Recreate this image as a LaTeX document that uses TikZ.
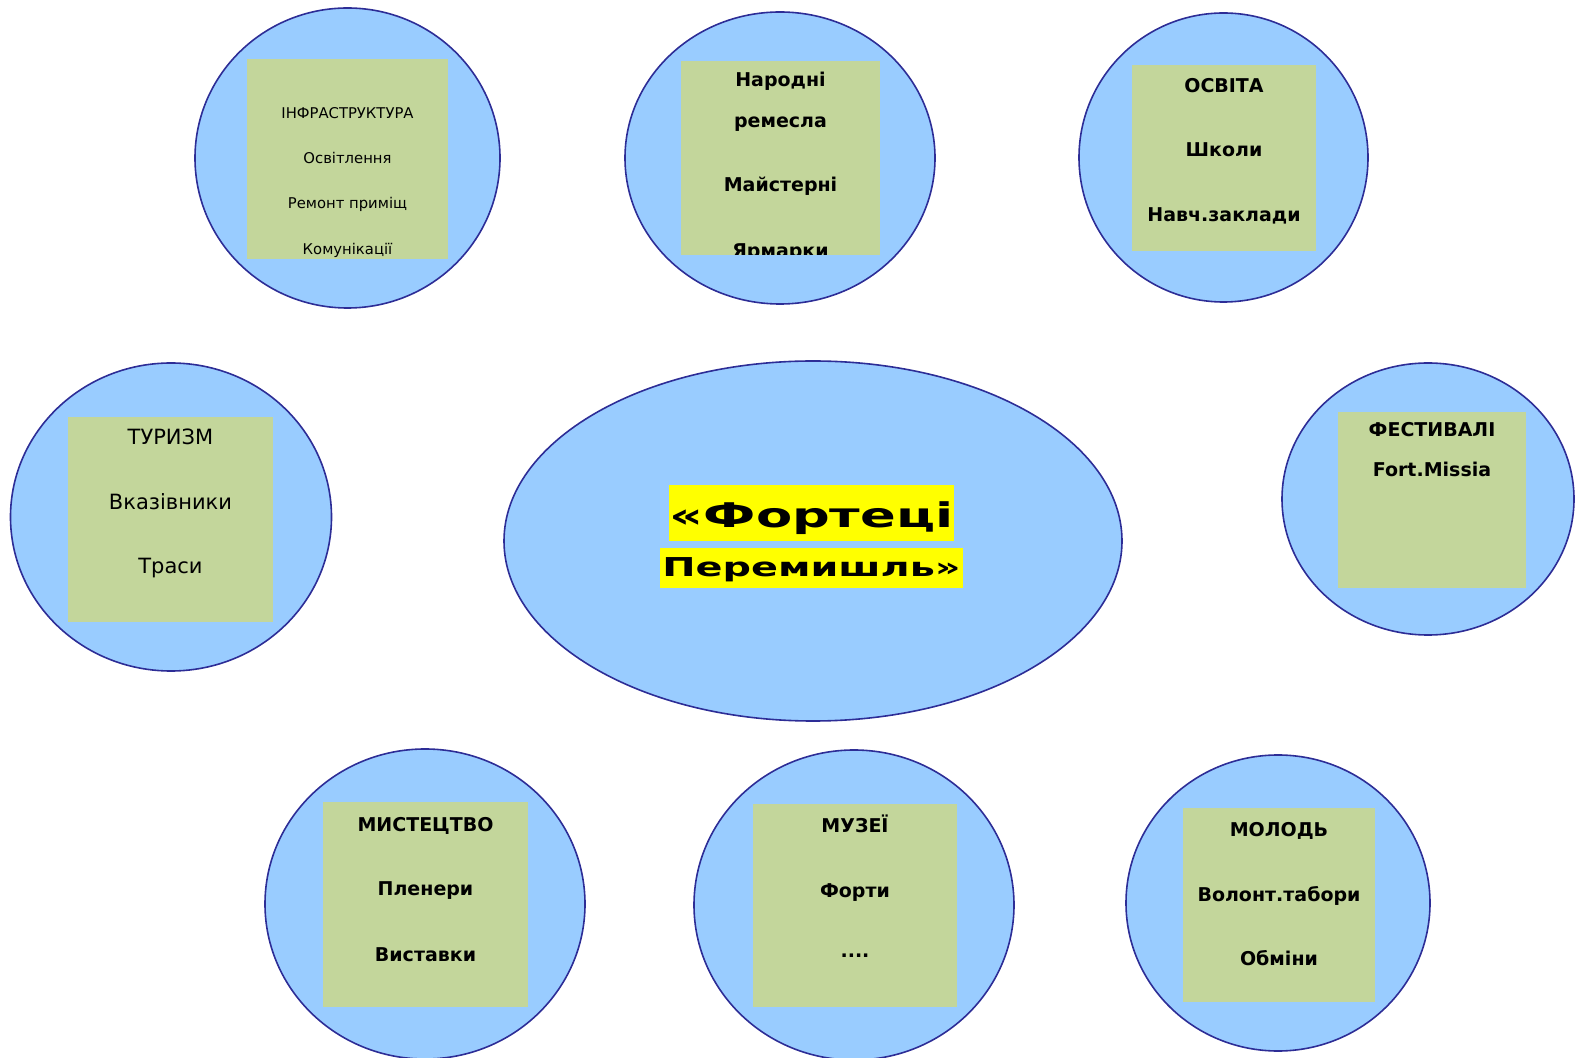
\documentclass[tikz,border=0pt]{standalone}
\usepackage{fontspec}
\setmainfont{DejaVu Sans}
\usetikzlibrary{shapes.geometric}
\definecolor{myblue}{RGB}{153,204,255}
\definecolor{myline}{RGB}{45,45,150}
\definecolor{mygreen}{RGB}{195,214,155}
\definecolor{myyellow}{RGB}{255,255,0}

\tikzset{
  bubble/.style={ellipse, draw=myline, fill=myblue, line width=0.8pt, inner sep=0pt},
  item/.style={anchor=base, inner sep=0pt, font=\fontsize{9.5pt}{11pt}\selectfont\bfseries},
  smallitem/.style={anchor=base, inner sep=0pt, font=\fontsize{7.4pt}{9pt}\selectfont},
  plainitem/.style={anchor=base, inner sep=0pt, font=\fontsize{10.5pt}{12pt}\selectfont},
  headline/.style={anchor=base, inner sep=0pt}
}

\begin{document}
\begin{tikzpicture}[x=0.5pt, y=-0.5pt]
    \useasboundingbox (0, 0) rectangle (1575, 1058);

    % bubbles
    \node[bubble, minimum width=152.5pt, minimum height=150pt] (infra) at (347.5, 158) {};
    \node[bubble, minimum width=155pt, minimum height=146pt] (craft) at (780, 158) {};
    \node[bubble, minimum width=144.5pt, minimum height=144.5pt] (edu) at (1223.5, 157.5) {};
    \node[bubble, minimum width=160.5pt, minimum height=154pt] (tour) at (171, 517) {};
    \node[bubble, minimum width=309pt, minimum height=180pt] (fort) at (813, 541) {};
    \node[bubble, minimum width=146pt, minimum height=136pt] (fest) at (1428, 499) {};
    \node[bubble, minimum width=160pt, minimum height=155pt] (art) at (425, 904) {};
    \node[bubble, minimum width=160pt, minimum height=155pt] (museum) at (854, 905) {};
    \node[bubble, minimum width=152pt, minimum height=148pt] (youth) at (1278, 903) {};

    % green boxes
    \fill[mygreen] (247, 59) rectangle (448, 259);
    \fill[mygreen] (681, 61) rectangle (880, 255);
    \fill[mygreen] (1132, 65) rectangle (1316, 251);
    \fill[mygreen] (68, 417) rectangle (273, 622);
    \fill[mygreen] (1338, 412) rectangle (1526, 588);
    \fill[mygreen] (323, 802) rectangle (528, 1007);
    \fill[mygreen] (753, 804) rectangle (957, 1007);
    \fill[mygreen] (1183, 808) rectangle (1375, 1002);

    % title
    \fill[myyellow] (669, 485) rectangle (954, 541);
    \fill[myyellow] (660, 548) rectangle (963, 588);
    \node[headline, font=\fontsize{17pt}{20pt}\selectfont\bfseries] (title1) at (811.5, 528) {\scalebox{1.55}[1]{«Фортеці}};
    \node[headline, font=\fontsize{13pt}{15pt}\selectfont\bfseries] (title2) at (811.5, 577) {\scalebox{1.53}[1]{Перемишль»}};

    % infrastructure
    \node[smallitem] (infra1) at (347.5, 119) {ІНФРАСТРУКТУРА};
    \node[smallitem] (infra2) at (347.5, 164) {Освітлення};
    \node[smallitem] (infra3) at (347.5, 209) {Ремонт приміщ};
    \node[smallitem] (infra4) at (347.5, 255) {Комунікації};

    % crafts, text cut by the box
    \begin{scope}
        \clip (681, 61) rectangle (880, 255);
        \node[item] (craft1) at (780.5, 87) {Народні};
        \node[item] (craft2) at (780.5, 128) {ремесла};
        \node[item] (craft3) at (780.5, 192) {Майстерні};
        \node[item] (craft4) at (780.5, 258) {Ярмарки};
    \end{scope}

    % education
    \node[item] (edu1) at (1224, 93) {ОСВІТА};
    \node[item] (edu2) at (1224, 157) {Школи};
    \node[item] (edu3) at (1224, 222) {Навч.заклади};

    % tourism
    \node[plainitem] (tour1) at (170.5, 445) {ТУРИЗМ};
    \node[plainitem] (tour2) at (170.5, 510) {Вказівники};
    \node[plainitem] (tour3) at (170.5, 574) {Траси};

    % festivals
    \node[item] (fest1) at (1432, 437) {ФЕСТИВАЛІ};
    \node[item] (fest2) at (1432, 477) {Fort.Missia};

    % art
    \node[item] (art1) at (425.5, 831) {МИСТЕЦТВО};
    \node[item] (art2) at (425.5, 895) {Пленери};
    \node[item] (art3) at (425.5, 961) {Виставки};

    % museums
    \node[item] (museum1) at (855, 832) {МУЗЕЇ};
    \node[item] (museum2) at (855, 897) {Форти};
    \node[item] (museum3) at (855, 957) {....};

    % youth
    \node[item] (youth1) at (1279, 836) {МОЛОДЬ};
    \node[item] (youth2) at (1279, 901) {Волонт.табори};
    \node[item] (youth3) at (1279, 965) {Обміни};

\end{tikzpicture}
\end{document}
